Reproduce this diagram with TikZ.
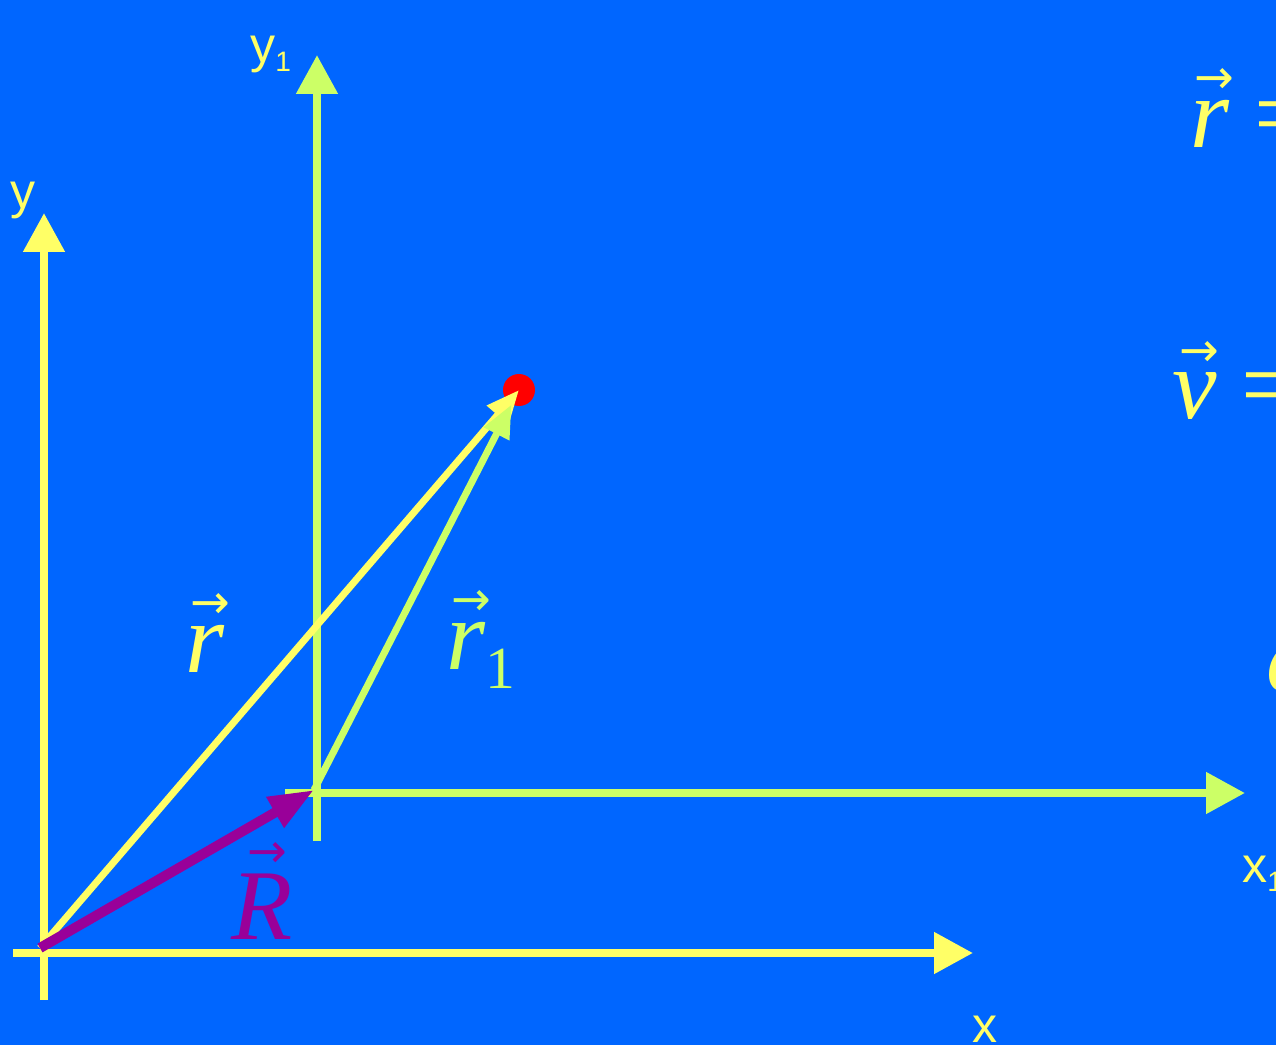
\documentclass[tikz,border=0pt]{standalone}
\usepackage{graphicx}
\usepackage{fontspec}
\setmainfont{Liberation Serif}
\setsansfont{Liberation Sans}
\newfontfamily\arrowfont{DejaVu Sans}
\usepackage{tikz}
\usetikzlibrary{arrows.meta,calc}
\definecolor{bgblue}{HTML}{0066FF}
\definecolor{ylw}{HTML}{FFFF66}
\definecolor{grn}{HTML}{CCFF66}
\definecolor{prp}{HTML}{990099}
% vector letter with an arrow above
\newcommand{\vecit}[1]{{\setbox0=\hbox{\itshape #1}\dimen0=\ht0 \advance\dimen0 by 3.4pt
  \hbox to \wd0{\hss\kern0.1em\raisebox{\dimen0}[0pt][0pt]{\arrowfont\fontsize{27}{27}\selectfont →}\hss}\kern-\wd0\box0}}
\tikzset{
  axis/.style={line width=0.16cm, -{Triangle[length=0.78cm,width=0.8cm]}},
  vecarrow/.style={line width=0.14cm, -{Triangle[length=0.66cm,width=0.54cm]}},
  lbl/.style={font=\sffamily\fontsize{28.5}{30}\selectfont, inner sep=0pt},
  mathlbl/.style={font=\fontsize{57}{60}\selectfont, inner sep=0pt}
}

\begin{document}
\begin{tikzpicture}[x=0.02cm, y=-0.02cm]
  % background
  \fill[bgblue] (0,0) rectangle (1276,1045);
  \clip (0,0) rectangle (1276,1045);
  % points
  \coordinate (O) at (40,948);
  \coordinate (O1) at (314,790);
  \node[circle, fill=red, inner sep=0pt, minimum size=0.64cm] (P) at (519,390) {};
  % axes x, y
  \coordinate (xs) at (13,953);  \coordinate (xe) at (973,953);
  \coordinate (ys) at (44,1000); \coordinate (ye) at (44,213);
  \draw[axis, ylw] (xs) -- (xe);
  \draw[axis, ylw] (ys) -- (ye);
  \node[lbl, ylw, anchor=base west] (ylab) at (10,208) {y};
  \node[lbl, ylw, anchor=base west] (xlab) at (972,1042) {x};
  % axes x1, y1
  \coordinate (x1s) at (285,793); \coordinate (x1e) at (1245,793);
  \coordinate (y1s) at (317,841); \coordinate (y1e) at (317,55);
  \draw[axis, grn] (x1s) -- (x1e);
  \draw[axis, grn] (y1s) -- (y1e);
  \node[lbl, ylw, anchor=base west] (y1lab) at (250,62) {y\raisebox{-5.5pt}{\fontsize{16}{16}\selectfont 1}};
  \node[lbl, ylw, anchor=base west] (x1lab) at (1242,882) {x\raisebox{-5.5pt}{\fontsize{16}{16}\selectfont 1}};
  % vectors
  \draw[vecarrow, ylw] (O) -- (P.center);
  \draw[vecarrow, grn] (O1) -- (P);
  \draw[line width=0.2cm, prp, -{Triangle[length=0.9cm,width=0.66cm]}] (O) -- (O1);
  \node[mathlbl, ylw, anchor=base] (rlab) at (205,672) {\vecit{r}};
  \node[mathlbl, grn, anchor=base] (r1lab) at (481,669) {\vecit{r}\raisebox{-11pt}{\fontsize{34}{34}\selectfont 1}};
  \node[mathlbl, prp, anchor=base] (Rlab) at (262,939) {\vecit{R}};
  % right column
  \node[mathlbl, ylw, anchor=base west] (req) at (1190,147) {\vecit{r} =};
  \node[mathlbl, ylw, anchor=base west] (veq) at (1172,418) {\vecit{v} =};
  \node[mathlbl, ylw, anchor=base west] (aeq) at (1266,690) {\vecit{a} =};
\end{tikzpicture}
\end{document}
